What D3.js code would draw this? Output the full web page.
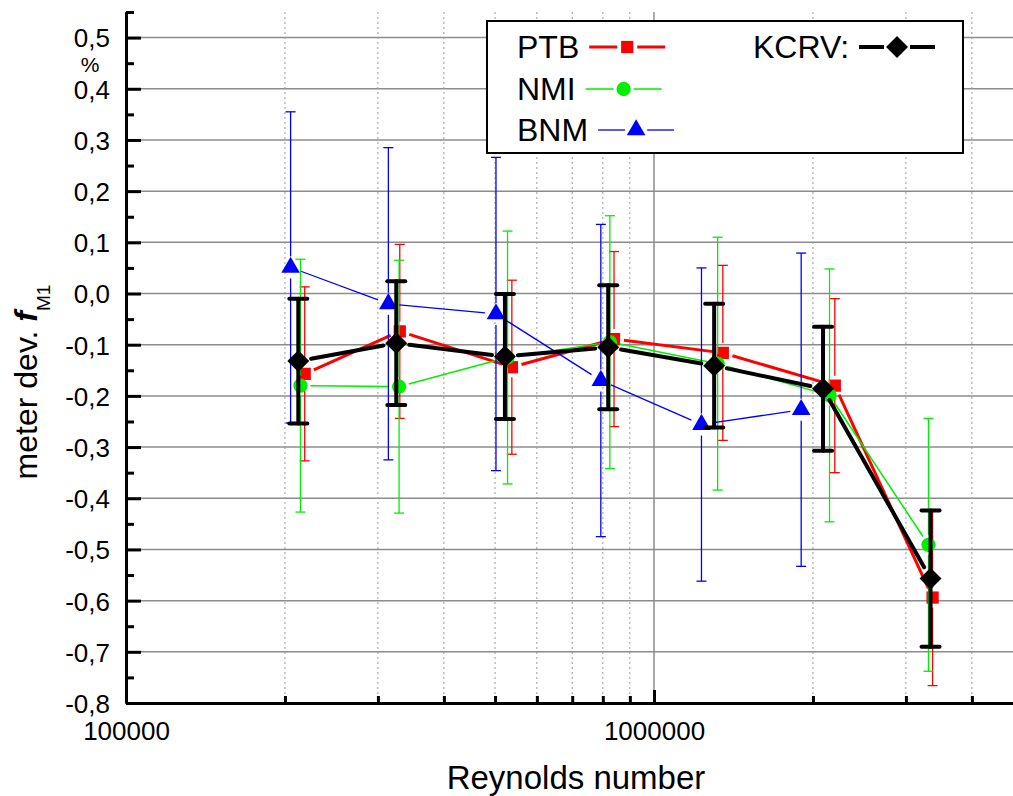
<!DOCTYPE html>
<html>
<head>
<meta charset="utf-8">
<script src="https://cdn.jsdelivr.net/npm/d3@7"></script>
<style>
  body { margin: 0; background: #fff; }
  svg { display: block; font-family: Arial, "Liberation Sans", sans-serif; }
</style>
</head>
<body>
<div id="chart"></div>
<script>
// data (Reynolds number, deviation in %, +/- uncertainty)
var rePTB = [2.18e5, 3.30e5, 5.38e5, 8.40e5, 1.35e6, 2.20e6, 3.37e6];
var devPTB = [-0.157, -0.074, -0.144, -0.089, -0.116, -0.180, -0.594];
var uncPTB = [0.170, 0.170, 0.170, 0.171, 0.171, 0.170, 0.172];

var reNMI = [2.14e5, 3.29e5, 5.28e5, 8.25e5, 1.32e6, 2.15e6, 3.31e6];
var devNMI = [-0.180, -0.182, -0.125, -0.095, -0.137, -0.199, -0.491];
var uncNMI = [0.247, 0.247, 0.247, 0.247, 0.247, 0.247, 0.247];

var reBNM = [2.05e5, 3.14e5, 5.02e5, 7.93e5, 1.23e6, 1.90e6];
var devBNM = [0.051, -0.020, -0.040, -0.170, -0.256, -0.227];
var uncBNM = [0.304, 0.305, 0.306, 0.305, 0.306, 0.306];

var reKCRV = [2.12e5, 3.25e5, 5.22e5, 8.19e5, 1.30e6, 2.09e6, 3.34e6];
var devKCRV = [-0.132, -0.097, -0.123, -0.105, -0.141, -0.186, -0.557];
var uncKCRV = [0.122, 0.121, 0.122, 0.121, 0.121, 0.121, 0.133];

var yTicks = [-0.8, -0.7, -0.6, -0.5, -0.4, -0.3, -0.2, -0.1, 0.0, 0.1, 0.2, 0.3, 0.4, 0.5];
var xMajor = [1e5, 1e6];
var xMinor = [2e5, 3e5, 4e5, 5e5, 6e5, 7e5, 8e5, 9e5, 2e6, 3e6, 4e6];

const width = 1013, height = 796;
const plotLeft = 126, plotTop = 12, plotBottom = 703;

const svg = d3
  .select("#chart")
  .append("svg")
  .attr("width", width)
  .attr("height", height);

const x = d3.scaleLog().domain([1e5, 5e6]).range([plotLeft, plotLeft + 528 * Math.log10(50)]);
const y = d3.scaleLinear().domain([-0.8, 0.55]).range([plotBottom, plotTop]);

var fmt = (v) => v.toFixed(1).replace(".", ",");

// grid
const grid = svg.append("g");
grid
  .selectAll(".hgrid")
  .data(yTicks.filter((d) => d > -0.8))
  .enter()
  .append("line")
  .attr("x1", plotLeft)
  .attr("x2", x.range()[1])
  .attr("y1", (d) => y(d))
  .attr("y2", (d) => y(d))
  .attr("stroke", "#8c8c8c")
  .attr("stroke-width", 1.5);
grid
  .selectAll(".vminor")
  .data(xMinor)
  .enter()
  .append("line")
  .attr("x1", (d) => x(d))
  .attr("x2", (d) => x(d))
  .attr("y1", plotTop)
  .attr("y2", plotBottom)
  .attr("stroke", "#9a9a9a")
  .attr("stroke-width", 1)
  .attr("stroke-dasharray", "2,3");
grid
  .append("line")
  .attr("x1", x(1e6))
  .attr("x2", x(1e6))
  .attr("y1", plotTop)
  .attr("y2", plotBottom)
  .attr("stroke", "#8c8c8c")
  .attr("stroke-width", 1.5);

// axes
const yAxis = svg
  .append("g")
  .attr("transform", `translate(${plotLeft},0)`)
  .call(d3.axisLeft(y).tickValues(yTicks).tickSize(-15).tickSizeOuter(0).tickPadding(16).tickFormat(fmt));
const yMinor = svg
  .append("g")
  .attr("transform", `translate(${plotLeft},0)`)
  .call(d3.axisLeft(y).tickValues(yTicks.map((d) => d + 0.05)).tickSize(-8).tickSizeOuter(0).tickFormat(""));
const xAxis = svg
  .append("g")
  .attr("transform", `translate(0,${plotBottom})`)
  .call(d3.axisBottom(x).tickValues(xMajor).tickSize(-13).tickSizeOuter(0).tickPadding(19).tickFormat(d3.format("d")));
const xMinorAxis = svg
  .append("g")
  .attr("transform", `translate(0,${plotBottom})`)
  .call(d3.axisBottom(x).tickValues(xMinor).tickSize(-7).tickSizeOuter(0).tickFormat(""));

[yAxis, yMinor, xAxis, xMinorAxis].forEach((g) => {
  g.selectAll("path").attr("stroke", "#000").attr("stroke-width", 3);
  g.selectAll(".tick line").attr("stroke", "#000").attr("stroke-width", 3);
  g.selectAll("text").attr("fill", "#000").attr("font-size", "26px").attr("font-family", null);
});
yAxis.selectAll("text").attr("dy", "0.36em");

svg
  .append("text")
  .attr("x", 90)
  .attr("y", 72)
  .attr("text-anchor", "middle")
  .attr("font-size", "21px")
  .text("%");

// axis titles
svg
  .append("text")
  .attr("x", 576)
  .attr("y", 789)
  .attr("text-anchor", "middle")
  .attr("font-size", "33px")
  .text("Reynolds number");

const ylab = svg
  .append("text")
  .attr("transform", "translate(37,382) rotate(-90)")
  .attr("text-anchor", "middle")
  .attr("font-size", "32px");
ylab.append("tspan").text("meter dev. ");
ylab.append("tspan").attr("font-style", "italic").attr("font-weight", "bold").text("f");
ylab.append("tspan").attr("font-size", "19px").attr("dy", 13).text("M1");

// series
var series = [
  { name: "PTB", re: rePTB, dev: devPTB, unc: uncPTB, color: "#ff0000", lw: 3, ebw: 1.3, cap: 10, gap: 10, sym: d3.symbolSquare, size: 150, rot: 0 },
  { name: "NMI", re: reNMI, dev: devNMI, unc: uncNMI, color: "#00ee00", lw: 1.5, ebw: 1.3, cap: 10, gap: 10, sym: d3.symbolCircle, size: 160, rot: 0 },
  { name: "BNM", re: reBNM, dev: devBNM, unc: uncBNM, color: "#0000ff", lw: 1.3, ebw: 1.3, cap: 10, gap: 11, sym: d3.symbolTriangle, size: 150, rot: 0 },
  { name: "KCRV", re: reKCRV, dev: devKCRV, unc: uncKCRV, color: "#000000", lw: 4, ebw: 4, cap: 18, gap: 13, sym: d3.symbolSquare, size: 240, rot: 45 },
];

function shorten(p, q, g) {
  var dx = q[0] - p[0], dy = q[1] - p[1];
  var len = Math.sqrt(dx * dx + dy * dy);
  if (len < 2 * g) return null;
  return [p[0] + (dx * g) / len, p[1] + (dy * g) / len, q[0] - (dx * g) / len, q[1] - (dy * g) / len];
}

series.forEach(function (s) {
  var g = svg.append("g");
  var pts = s.re.map((r, i) => [x(r), y(s.dev[i])]);
  // connecting lines with a gap at each marker
  var segs = [];
  for (var i = 0; i < pts.length - 1; i++) {
    var c = shorten(pts[i], pts[i + 1], s.gap);
    if (c) segs.push(c);
  }
  g.selectAll(".seg")
    .data(segs)
    .enter()
    .append("line")
    .attr("x1", (d) => d[0])
    .attr("y1", (d) => d[1])
    .attr("x2", (d) => d[2])
    .attr("y2", (d) => d[3])
    .attr("stroke", s.color)
    .attr("stroke-width", s.lw)
    .attr("stroke-linecap", s.name == "KCRV" ? "round" : "butt");
  // error bars
  var eg = s.name == "KCRV" ? 0 : s.gap;
  s.re.forEach(function (r, i) {
    var cx = x(r), yt = y(s.dev[i] + s.unc[i]), yb = y(s.dev[i] - s.unc[i]), yc = y(s.dev[i]);
    var lines = [
      [cx, yt, cx, yc - eg],
      [cx, yc + eg, cx, yb],
      [cx - s.cap / 2, yt, cx + s.cap / 2, yt],
      [cx - s.cap / 2, yb, cx + s.cap / 2, yb],
    ];
    g.selectAll(null)
      .data(lines)
      .enter()
      .append("line")
      .attr("x1", (d) => d[0])
      .attr("y1", (d) => d[1])
      .attr("x2", (d) => d[2])
      .attr("y2", (d) => d[3])
      .attr("stroke", s.color)
      .attr("stroke-width", s.ebw)
      .attr("stroke-linecap", s.name == "KCRV" ? "round" : "butt");
  });
  // markers
  g.selectAll(".mk")
    .data(pts)
    .enter()
    .append("path")
    .attr("d", d3.symbol().type(s.sym).size(s.size))
    .attr("transform", (d) => `translate(${d[0]},${d[1]}) rotate(${s.rot})`)
    .attr("fill", s.color);
});

// legend
const leg = svg.append("g");
leg
  .append("rect")
  .attr("x", 487)
  .attr("y", 21)
  .attr("width", 476)
  .attr("height", 132)
  .attr("fill", "#fff")
  .attr("stroke", "#000")
  .attr("stroke-width", 2);

var legPos = [
  [517, 58],
  [517, 100],
  [517, 141],
  [753, 58],
];
series.forEach(function (s, i) {
  var label = s.name == "KCRV" ? "KCRV:" : s.name;
  var t = leg
    .append("text")
    .attr("x", legPos[i][0])
    .attr("y", legPos[i][1])
    .attr("font-size", "32px")
    .text(label);
  var x0 = legPos[i][0] + t.node().getComputedTextLength() + 10;
  var ly = legPos[i][1] - 11;
  var mid = x0 + 38;
  [[x0, mid - s.gap], [mid + s.gap, x0 + 76]].forEach(function (p) {
    leg
      .append("line")
      .attr("x1", p[0])
      .attr("x2", p[1])
      .attr("y1", ly)
      .attr("y2", ly)
      .attr("stroke", s.color)
      .attr("stroke-width", s.lw);
  });
  leg
    .append("path")
    .attr("d", d3.symbol().type(s.sym).size(s.size))
    .attr("transform", `translate(${mid},${ly}) rotate(${s.rot})`)
    .attr("fill", s.color);
});
</script>
</body>
</html>
